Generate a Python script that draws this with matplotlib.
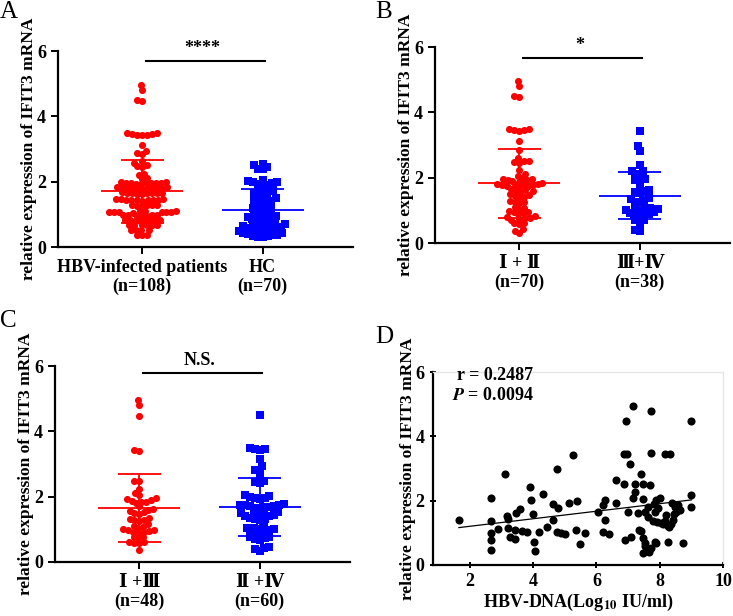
import numpy as np
import matplotlib
matplotlib.use("Agg")
import matplotlib.pyplot as plt

plt.rcParams['font.family'] = ['Liberation Serif', 'DejaVu Serif', 'Noto Sans CJK SC']
plt.rcParams['font.weight'] = 'bold'
plt.rcParams['axes.labelweight'] = 'bold'
plt.rcParams['mathtext.fontset'] = 'stix'

# ---- data ----
hbv_patients = [4.95, 4.80, 4.50, 4.47,
                3.50, 3.48, 3.46, 3.45, 3.44, 3.43, 3.42, 3.12,
                2.95, 2.88, 2.85, 2.62, 2.58, 2.50, 2.48, 2.45, 2.25, 2.20, 2.10, 2.08,
                1.99, 1.98, 1.97, 1.97, 1.96, 1.96, 1.95, 1.95, 1.94, 1.93,
                1.84, 1.83, 1.83, 1.82, 1.82, 1.81, 1.81, 1.80, 1.80, 1.79, 1.78,
                1.67, 1.66, 1.66, 1.65, 1.65, 1.64, 1.64, 1.63, 1.62,
                1.47, 1.46, 1.46, 1.45, 1.45, 1.44, 1.44, 1.43, 1.43, 1.42,
                1.30, 1.29, 1.28, 1.28, 1.27, 1.26,
                1.10, 1.09, 1.09, 1.08, 1.08, 1.07, 1.07, 1.06, 1.06, 1.05,
                0.98, 0.98, 0.97, 0.97, 0.96, 0.96, 0.95,
                0.84, 0.83, 0.83, 0.82, 0.82, 0.81, 0.81, 0.80,
                0.68, 0.68, 0.67, 0.67, 0.66, 0.66,
                0.53, 0.52, 0.52, 0.51, 0.38, 0.37, 0.36]
hc = [2.55, 2.50, 2.45, 2.40, 2.38,
      2.05, 2.02, 2.00, 1.98, 1.95, 1.93, 1.90, 1.88,
      1.78, 1.75, 1.72, 1.70, 1.65, 1.60,
      1.55, 1.50, 1.48, 1.45, 1.42, 1.40, 1.35,
      1.30, 1.25, 1.20, 1.18, 1.15,
      1.10, 1.05, 1.02, 1.00, 0.98, 0.95,
      0.92, 0.90, 0.88, 0.85, 0.82, 0.80, 0.78, 0.75,
      0.72, 0.70, 0.68, 0.65, 0.63, 0.62, 0.62, 0.60, 0.58, 0.57, 0.55,
      0.52, 0.50, 0.48, 0.47, 0.45, 0.44, 0.42, 0.40, 0.38, 0.37, 0.35,
      0.33, 0.32, 0.30]
stage_1_2 = [4.95, 4.80, 4.50, 4.47,
             3.50, 3.48, 3.46, 3.45, 3.44, 3.12,
             2.85, 2.60, 2.52, 2.50, 2.48, 2.45, 2.25, 2.10, 2.05,
             1.98, 1.97, 1.95, 1.93, 1.92, 1.90, 1.88, 1.85,
             1.82, 1.80, 1.80, 1.78, 1.77, 1.76, 1.75, 1.74, 1.72,
             1.65, 1.62, 1.60, 1.58, 1.55,
             1.50, 1.48, 1.45, 1.42, 1.40,
             1.30, 1.27, 1.25, 1.22, 1.10, 1.08, 1.05,
             0.98, 0.96, 0.95, 0.93, 0.90,
             0.82, 0.80, 0.78, 0.77, 0.75, 0.72,
             0.62, 0.60, 0.58, 0.42, 0.37, 0.32]
stage_3_4 = [3.42, 2.97, 2.83, 2.40, 2.22, 2.20, 2.10, 2.08, 1.95, 1.93, 1.92,
             1.72, 1.62, 1.60, 1.57, 1.52, 1.38, 1.36, 1.30, 1.27, 1.25,
             1.07, 1.05, 1.03, 1.02, 1.00, 0.98, 0.95, 0.93, 0.90, 0.88,
             0.85, 0.82, 0.72, 0.70, 0.62, 0.40, 0.38]
stage_1_3 = [4.95, 4.80, 4.47, 3.43, 3.41, 2.49, 2.47, 2.22, 2.10, 2.05,
             1.95, 1.93, 1.90, 1.88, 1.85, 1.84, 1.82, 1.70,
             1.62, 1.60, 1.55, 1.52, 1.50, 1.48,
             1.35, 1.33, 1.30, 1.28, 1.25,
             1.15, 1.10, 1.08, 1.05, 1.02,
             0.98, 0.97, 0.95, 0.93, 0.92, 0.90,
             0.78, 0.75, 0.72, 0.62, 0.60, 0.58, 0.57, 0.37]
stage_2_4 = [4.50, 3.49, 3.47, 3.45, 3.44, 3.14, 2.94, 2.83, 2.81, 2.60, 2.49, 2.45, 2.42,
             2.05, 2.02, 2.00, 1.97, 1.95, 1.93,
             1.78, 1.76, 1.75, 1.73, 1.72, 1.70, 1.69, 1.68, 1.66, 1.64,
             1.52, 1.50, 1.48, 1.47, 1.45, 1.44, 1.42, 1.40,
             1.35, 1.33, 1.32, 1.30,
             1.08, 1.05, 1.03, 1.02, 1.00, 0.98,
             0.92, 0.90, 0.88, 0.86,
             0.78, 0.75, 0.72, 0.70, 0.68,
             0.45, 0.42, 0.40, 0.35]

hbv_dna = [1.65, 2.68, 2.68, 2.68, 2.68, 2.68, 2.90, 3.12, 3.16, 3.21,
           3.21, 3.26, 3.42, 3.42, 3.47, 3.58, 3.63, 3.79, 3.89, 3.93,
           4.00, 4.03, 4.05, 4.19, 4.32, 4.42, 4.63, 4.63, 4.76, 4.79,
           4.74, 4.89, 5.00, 5.14, 5.26, 5.35, 5.37, 5.47, 5.63, 6.05,
           6.21, 6.26, 6.26, 6.21, 6.40, 6.63, 6.63, 6.86, 6.86, 6.95,
           6.93, 6.89, 7.00, 7.05, 7.10, 7.16, 7.21, 7.16, 7.21, 7.32,
           7.35, 7.42, 7.47, 7.47, 7.47, 7.47, 7.53, 7.55, 7.63, 7.63,
           7.63, 7.68, 7.71, 7.74, 7.79, 7.82, 7.84, 7.84, 7.87, 7.87,
           7.95, 8.00, 8.10, 8.16, 8.17, 8.26, 8.32, 8.30, 8.37, 8.42,
           8.39, 8.45, 8.47, 8.26, 8.58, 8.63, 8.74, 9.00, 9.00, 9.00,
           7.55, 7.65, 7.72, 7.40, 7.90, 8.05, 8.20, 8.50]
ifit3 = [1.40, 2.07, 1.38, 0.98, 0.78, 0.47, 1.12, 2.84, 1.52, 1.42,
         1.14, 0.86, 0.80, 1.09, 1.62, 1.73, 1.07, 1.03, 2.43, 2.02,
         1.58, 0.72, 0.44, 1.03, 2.22, 1.17, 1.40, 1.89, 2.97, 1.76,
         1.03, 1.00, 0.96, 1.93, 3.41, 1.09, 2.00, 0.65, 1.00, 1.64,
         1.86, 2.02, 1.40, 1.03, 0.96, 2.64, 1.93, 2.51, 3.44, 3.44,
         4.48, 0.78, 1.65, 3.15, 0.88, 2.07, 2.28, 4.93, 2.53, 1.62,
         1.09, 2.84, 0.83, 0.36, 2.04, 2.53, 1.65, 0.67, 1.81, 1.50,
         0.47, 2.48, 3.48, 4.79, 1.38, 1.91, 0.72, 1.65, 2.02, 0.67,
         1.76, 2.07, 1.29, 1.38, 3.44, 1.21, 3.46, 1.19, 1.29, 1.40,
         1.93, 1.60, 1.81, 0.72, 1.86, 1.71, 0.69, 4.48, 2.17, 1.79,
         0.58, 0.40, 0.52, 1.05, 1.35, 1.30, 1.55, 1.65]
fit_slope = 0.117
fit_intercept = 0.97

ylab = 'relative expression of IFIT3 mRNA'
RED = '#ff0000'
BLUE = '#0000ff'

fig = plt.figure(figsize=(7.33, 6.16), dpi=100)


def swarm(vals, d=5.0, px_x=120.4, px_y=32.67):
    # simple beeswarm layout in pixel space
    vals = np.asarray(vals, float)
    xs = np.zeros(len(vals))
    placed = []
    for i in np.argsort(vals):
        y = vals[i] * px_y
        blocks = []
        for (xj, yj) in placed:
            dy = abs(yj - y)
            if dy < d:
                w = np.sqrt(d * d - dy * dy)
                blocks.append((xj - w, xj + w))
        cands = [0.0] + [b for bl in blocks for b in bl]
        cands.sort(key=abs)
        for c in cands:
            if all(not (lo + 1e-6 < c < hi - 1e-6) for lo, hi in blocks):
                xs[i] = c
                break
        placed.append((xs[i], y))
    return xs / px_x


def style_axes(ax):
    for s in ['top', 'right']:
        ax.spines[s].set_visible(False)
    for s in ['left', 'bottom']:
        ax.spines[s].set_linewidth(1.6)
    ax.tick_params(width=1.4, length=5, labelsize=13)


def dot_panel(rect, groups, ticklabels, sig, bar_y):
    ax = fig.add_axes(rect)
    for i, (vals, color, marker) in enumerate(groups):
        v = np.array(vals)
        ax.scatter(i + swarm(v), v, s=26, c=color, marker=marker,
                   linewidths=0, zorder=3)
        m, sd = v.mean(), v.std(ddof=1)
        ax.hlines(m, i - 0.34, i + 0.34, color=color, lw=1.3, zorder=4)
        ax.vlines(i, m - sd, m + sd, color=color, lw=1.3, zorder=4)
        ax.hlines([m - sd, m + sd], i - 0.18, i + 0.18, color=color, lw=1.3, zorder=4)
    ax.set_xlim(-0.7, 1.75)
    ax.set_ylim(0, 6)
    ax.set_yticks([0, 2, 4, 6])
    ax.set_xticks([0, 1])
    ax.set_xticklabels(ticklabels, linespacing=1.15)
    ax.plot([0.03, 1.02], [bar_y, bar_y], color='black', lw=1.5, clip_on=False)
    ax.text(0.5, bar_y + 0.12, sig, ha='center', va='bottom', fontsize=13)
    ax.set_ylabel(ylab, fontsize=12.5, labelpad=0)
    style_axes(ax)
    return ax


dot_panel([0.0791, 0.599, 0.4025, 0.318],
          [(hbv_patients, RED, 'o'), (hc, BLUE, 's')],
          ['HBV-infected patients\n(n=108)', 'HC\n(n=70)'], '****', 5.7)
dot_panel([0.5935, 0.6055, 0.4025, 0.318],
          [(stage_1_2, RED, 'o'), (stage_3_4, BLUE, 's')],
          ['Ⅰ + Ⅱ\n(n=70)', 'Ⅲ+Ⅳ\n(n=38)'], '*', 5.66)
dot_panel([0.075, 0.0877, 0.4025, 0.318],
          [(stage_1_3, RED, 'o'), (stage_2_4, BLUE, 's')],
          ['Ⅰ +Ⅲ\n(n=48)', 'Ⅱ +Ⅳ\n(n=60)'], 'N.S.', 5.78)

# panel D: correlation
ax = fig.add_axes([0.5907, 0.0828, 0.3956, 0.3133])
ax.scatter(hbv_dna, ifit3, s=34, c='black', linewidths=0, zorder=3)
xl = np.array([min(hbv_dna), max(hbv_dna)])
ax.plot(xl, fit_intercept + fit_slope * xl, color='black', lw=0.9)
ax.set_xlim(0.83, 10)
ax.set_ylim(0, 6)
ax.set_xticks([2, 4, 6, 8, 10])
ax.set_yticks([0, 2, 4, 6])
ax.set_ylabel(ylab, fontsize=12.5, labelpad=0)
ax.set_xlabel(r'HBV-DNA(Log$_{\mathbf{10}}$ IU/ml)', fontsize=13, labelpad=1)
for s in ['top', 'right']:
    ax.spines[s].set_color('#e6e6e6')
    ax.spines[s].set_linewidth(1.0)
for s in ['left', 'bottom']:
    ax.spines[s].set_linewidth(1.6)
ax.tick_params(width=1.4, length=5, labelsize=13, direction='inout')
ax.text(1.6, 5.9, 'r = 0.2487', fontsize=13, va='center', ha='left')
ax.text(1.43, 5.28, r'$\boldsymbol{P}$ = 0.0094', fontsize=13, va='center', ha='left')

# panel letters
for lab, x, y in [('A', 0.0, 0.999), ('B', 0.512, 0.999),
                  ('C', 0.0, 0.497), ('D', 0.512, 0.471)]:
    fig.text(x, y, lab, fontsize=18, fontweight='normal', va='top', ha='left')

fig.savefig('out.png', dpi=100)
